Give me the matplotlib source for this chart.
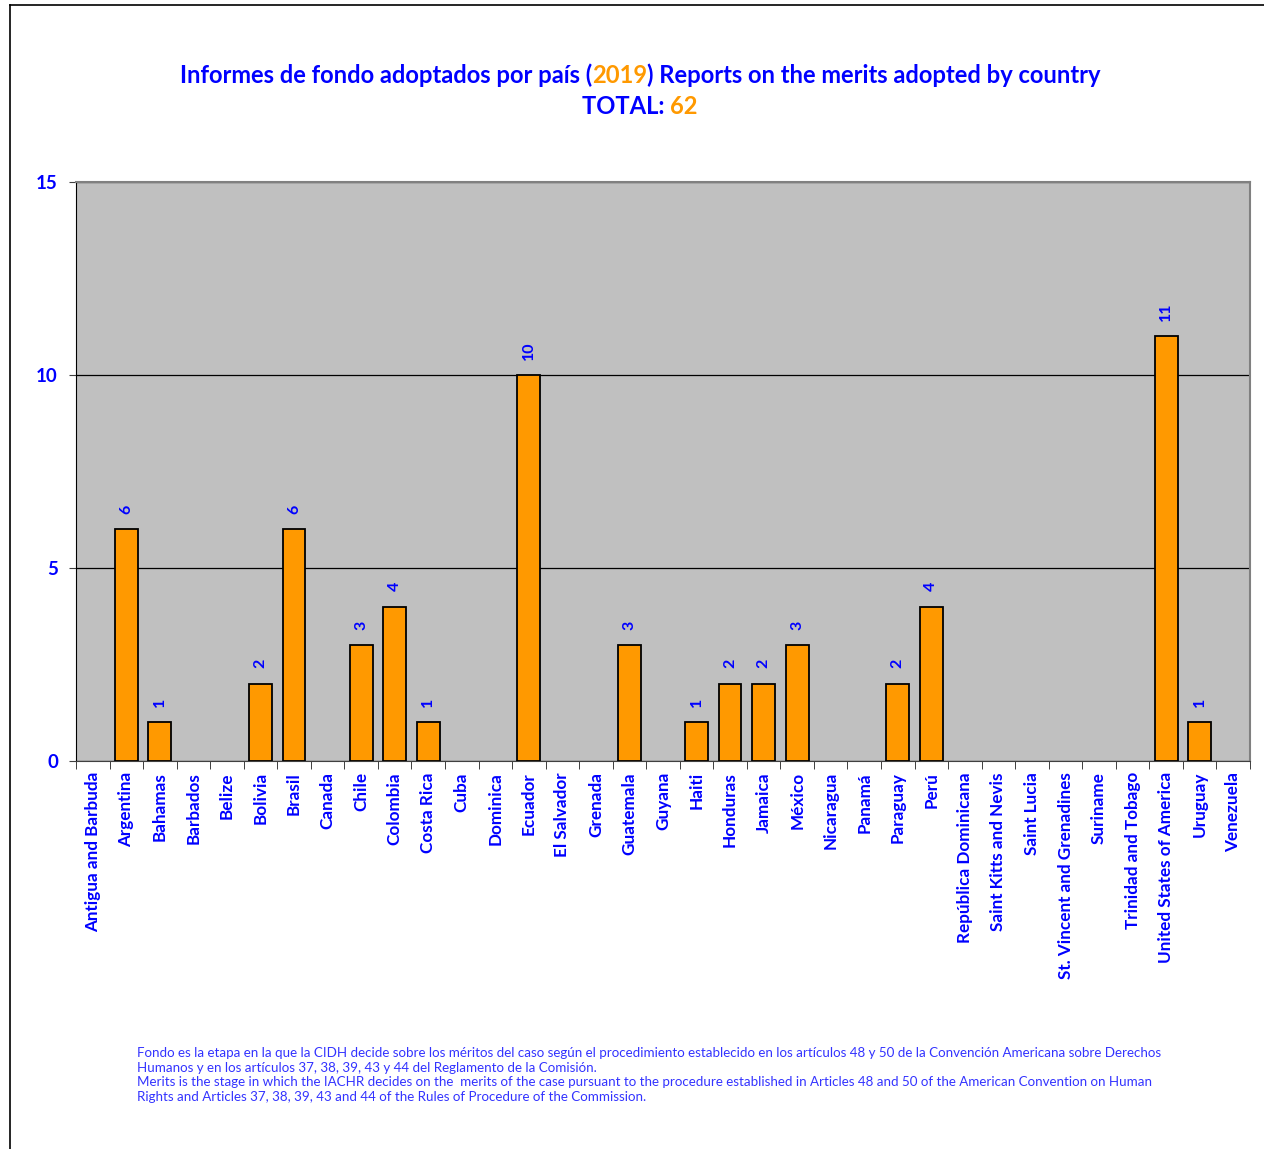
import matplotlib
matplotlib.use("Agg")
import matplotlib.pyplot as plt
import numpy as np

countries = ["Antigua and Barbuda", "Argentina", "Bahamas", "Barbados", "Belize", "Bolivia",
             "Brasil", "Canada", "Chile", "Colombia", "Costa Rica", "Cuba", "Dominica", "Ecuador",
             "El Salvador", "Grenada", "Guatemala", "Guyana", "Haiti", "Honduras", "Jamaica",
             "México", "Nicaragua", "Panamá", "Paraguay", "Perú", "República Dominicana",
             "Saint Kitts and Nevis", "Saint Lucia", "St. Vincent and Grenadines", "Suriname",
             "Trinidad and Tobago", "United States of America", "Uruguay", "Venezuela"]
values = [0, 6, 1, 0, 0, 2, 6, 0, 3, 4, 1, 0, 0, 10, 0, 0, 3, 0, 1, 2, 2, 3, 0, 0, 2, 4,
          0, 0, 0, 0, 0, 0, 11, 1, 0]
yticks = [0, 5, 10, 15]

BLUE = "#0000FF"
ORANGE = "#FF9900"
FONT = ["Lato", "DejaVu Sans"]
plt.rcParams['font.family'] = FONT

W, H = 1264, 1149
fig = plt.figure(figsize=(W / 100, H / 100), dpi=100)
ax = fig.add_axes([76 / W, 1 - 761 / H, (1250 - 76) / W, (761 - 182) / H])
ax.set_facecolor("#C0C0C0")

x = np.arange(len(countries))
lws = [1.3 if v > 0 else 0 for v in values]
ax.bar(x, values, width=0.68, color=ORANGE, edgecolor="black", linewidth=lws, zorder=3)
for xi, v in zip(x, values):
    if v > 0:
        ax.text(xi, v + 0.4, str(v), rotation=90, ha="center", va="bottom",
                color=BLUE, fontsize=11.5, fontweight="bold")

ax.set_xlim(-0.5, len(countries) - 0.5)
ax.set_ylim(0, 15)
ax.set_yticks(yticks)
ax.set_yticklabels([str(t) for t in yticks], color=BLUE, fontsize=13.5, fontweight="bold")
ax.yaxis.grid(True, color="black", linewidth=0.9, zorder=1)
ax.set_axisbelow(True)
ax.tick_params(axis="y", length=5, direction="out", pad=8, color="#404040")

ax.set_xticks(x)
ax.set_xticklabels(countries, rotation=90, color=BLUE, fontsize=12.3, fontweight="bold")
ax.tick_params(axis="x", length=0, pad=8)
ax.set_xticks(np.arange(-0.5, len(countries), 1), minor=True)
ax.tick_params(axis="x", which="minor", length=6, direction="out", color="#202020")

ax.spines["left"].set_color("black")
ax.spines["bottom"].set_color("#404040")
ax.spines["top"].set_color("#808080")
ax.spines["right"].set_color("#808080")
ax.spines["top"].set_linewidth(1.5)
ax.spines["right"].set_linewidth(1.5)

# Title with multicolour pieces
renderer = fig.canvas.get_renderer()

def colored_line(pieces, y, size):
    texts = []
    for s, c in pieces:
        t = fig.text(0, y, s, color=c, fontsize=size, fontweight="bold", ha="left",
                     va="baseline", transform=fig.transFigure)
        texts.append(t)
    widths = [t.get_window_extent(renderer).width for t in texts]
    total = sum(widths)
    start = 640 - total / 2
    for t, w in zip(texts, widths):
        t.set_x(start / W)
        start += w

colored_line([("Informes de fondo adoptados por país (", BLUE), ("2019", ORANGE),
              (") Reports on the merits adopted by country", BLUE)], 1 - 83 / H, 17.1)
colored_line([("TOTAL: ", BLUE), ("62", ORANGE)], 1 - 114 / H, 17.1)

note = ("Fondo es la etapa en la que la CIDH decide sobre los méritos del caso según el procedimiento establecido en los artículos 48 y 50 de la Convención Americana sobre Derechos\n"
        "Humanos y en los artículos 37, 38, 39, 43 y 44 del Reglamento de la Comisión.\n"
        "Merits is the stage in which the IACHR decides on the  merits of the case pursuant to the procedure established in Articles 48 and 50 of the American Convention on Human\n"
        "Rights and Articles 37, 38, 39, 43 and 44 of the Rules of Procedure of the Commission.")
fig.text(137 / W, 1 - 1047 / H, note, color="#3333FF", fontsize=9.6, ha="left", va="top",
         linespacing=1.26)

# Outer frame lines (top and left)
fig.add_artist(plt.Line2D([10 / W, 1], [1 - 5 / H, 1 - 5 / H], color="black", linewidth=1.2,
                          transform=fig.transFigure))
fig.add_artist(plt.Line2D([10 / W, 10 / W], [0, 1 - 5 / H], color="black", linewidth=1.2,
                          transform=fig.transFigure))

fig.savefig("out.png", dpi=100)
